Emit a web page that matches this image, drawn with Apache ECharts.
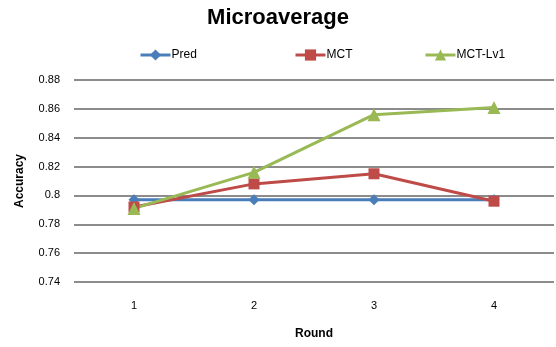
<!DOCTYPE html>
<html>
<head>
<meta charset="utf-8">
<script src="https://cdn.jsdelivr.net/npm/echarts@6/dist/echarts.min.js"></script>
<style>
  html, body { margin: 0; padding: 0; background: #fff; }
  #chart { width: 556px; height: 347px; }
</style>
</head>
<body>
<div id="chart"></div>
<script>
// Accuracy per round for each method
const rounds = ['1', '2', '3', '4'];
const pred = [0.797, 0.797, 0.797, 0.797];
const mct = [0.792, 0.808, 0.815, 0.796];
const mctLv1 = [0.791, 0.816, 0.856, 0.861];
const yTicks = { min: 0.74, max: 0.88, step: 0.02 };

const font = 'Liberation Sans, Arial, sans-serif';
const chart = echarts.init(document.getElementById('chart'), null, { renderer: 'canvas' });

function legendAt(name, left) {
  return {
    data: [name],
    top: 44,
    left: left,
    itemWidth: 30,
    itemHeight: 14,
    itemGap: 2,
    lineStyle: { width: 3 },
    textStyle: { fontFamily: font, fontSize: 12, color: '#000', padding: [0, 0, 0, -4] }
  };
}

chart.setOption({
  animation: false,
  backgroundColor: '#fff',
  title: {
    text: 'Microaverage',
    left: 'center',
    top: 2,
    itemGap: 0,
    textStyle: { fontFamily: font, fontSize: 22, fontWeight: 'bold', color: '#000' }
  },
  legend: [legendAt('Pred', 134), legendAt('MCT', 289), legendAt('MCT-Lv1', 419)],
  grid: { left: 74, right: 2, top: 80, bottom: 65, containLabel: false },
  xAxis: {
    type: 'category',
    data: rounds,
    boundaryGap: true,
    name: 'Round',
    nameLocation: 'middle',
    nameGap: 46,
    nameTextStyle: { fontFamily: font, fontSize: 12, fontWeight: 'bold', color: '#000' },
    axisLine: { show: false },
    axisTick: { show: false },
    axisLabel: { fontFamily: font, fontSize: 11, color: '#000', margin: 18 }
  },
  yAxis: {
    type: 'value',
    min: yTicks.min,
    max: yTicks.max,
    interval: yTicks.step,
    name: 'Accuracy',
    nameLocation: 'middle',
    nameGap: 48,
    nameRotate: 90,
    nameTextStyle: { fontFamily: font, fontSize: 12, fontWeight: 'bold', color: '#000' },
    axisLine: { show: false },
    axisTick: { show: false },
    axisLabel: {
      fontFamily: font, fontSize: 11, color: '#000', margin: 14,
      formatter: v => String(parseFloat(v.toFixed(2)))
    },
    splitLine: { lineStyle: { color: '#8c8c8c', width: 2 } }
  },
  series: [
    {
      name: 'Pred', type: 'line', data: pred,
      symbol: 'diamond', symbolSize: 11,
      lineStyle: { color: '#4a7ebb', width: 3 },
      itemStyle: { color: '#4a7ebb' }
    },
    {
      name: 'MCT', type: 'line', data: mct,
      symbol: 'rect', symbolSize: 11,
      lineStyle: { color: '#be4b48', width: 3 },
      itemStyle: { color: '#be4b48' }
    },
    {
      name: 'MCT-Lv1', type: 'line', data: mctLv1,
      symbol: 'triangle', symbolSize: 13,
      lineStyle: { color: '#98b954', width: 3 },
      itemStyle: { color: '#98b954' }
    }
  ]
});
</script>
</body>
</html>
